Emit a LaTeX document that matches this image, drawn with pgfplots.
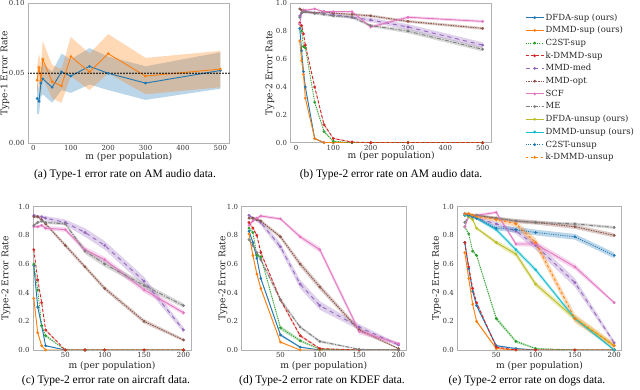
\documentclass[border=0pt]{standalone}
\usepackage{fontspec}
\setmainfont{DejaVu Serif}
\newfontfamily\capfont{Liberation Serif}
\usepackage{pgfplots}
\usepackage{pgfplotstable}
\pgfplotsset{compat=1.18}
\usepgfplotslibrary{fillbetween}

\definecolor{c0}{HTML}{1F77B4}
\definecolor{c1}{HTML}{FF7F0E}
\definecolor{c2}{HTML}{2CA02C}
\definecolor{c3}{HTML}{D62728}
\definecolor{c4}{HTML}{9467BD}
\definecolor{c5}{HTML}{8C564B}
\definecolor{c6}{HTML}{E377C2}
\definecolor{c7}{HTML}{7F7F7F}
\definecolor{c8}{HTML}{BCBD22}
\definecolor{c9}{HTML}{17BECF}

% type-1 error, AM audio
\pgfplotstableread{
x A Ae B Be
10 0.032 0.011 0.045 0.010
15 0.030 0.009 0.054 0.010
20 0.043 0.010 0.045 0.012
25 0.046 0.011 0.060 0.013
50 0.040 0.011 0.044 0.012
75 0.051 0.013 0.041 0.012
100 0.048 0.012 0.062 0.014
150 0.055 0.013 0.051 0.013
200 0.050 0.012 0.064 0.014
300 0.043 0.012 0.048 0.013
500 0.052 0.013 0.053 0.013
}\ta

% type-2 error, AM audio
\pgfplotstableread{
x A Ae B Be C Ce K Ke M Me O Oe S Se E Ee
10 0.82 0.01 0.73 0.01 0.85 0.01 0.86 0.01 0.91 0.01 0.96 0.005 0.85 0.01 0.90 0.01
15 0.66 0.01 0.59 0.01 0.80 0.01 0.84 0.01 0.93 0.01 0.95 0.005 0.93 0.01 0.93 0.01
20 0.51 0.01 0.49 0.01 0.69 0.01 0.78 0.01 0.94 0.01 0.95 0.005 0.95 0.01 0.94 0.01
25 0.40 0.01 0.32 0.01 0.68 0.01 0.70 0.01 0.94 0.01 0.94 0.005 0.95 0.01 0.94 0.01
50 0.03 0.005 0.03 0.005 0.29 0.01 0.40 0.01 0.93 0.01 0.93 0.005 0.96 0.005 0.93 0.01
75 0 0 0 0 0.08 0.01 0.13 0.01 0.93 0.01 0.94 0.005 0.94 0.005 0.92 0.01
100 0 0 0 0 0.01 0.005 0.03 0.005 0.92 0.01 0.93 0.005 0.94 0.005 0.91 0.01
150 0 0 0 0 0 0 0.005 0.003 0.90 0.01 0.92 0.01 0.94 0.005 0.90 0.01
200 0 0 0 0 0 0 0 0 0.88 0.015 0.91 0.01 0.83 0.01 0.84 0.01
300 0 0 0 0 0 0 0 0 0.83 0.02 0.87 0.01 0.90 0.01 0.80 0.015
500 0 0 0 0 0 0 0 0 0.70 0.02 0.82 0.01 0.87 0.01 0.67 0.015
}\tb

% type-2 error, aircraft
\pgfplotstableread{
x A Ae B Be C Ce K Ke M Me O Oe S Se E Ee
10 0.59 0.01 0.36 0.01 0.60 0.01 0.70 0.01 0.94 0.01 0.93 0.01 0.86 0.01 0.87 0.01
15 0.30 0.01 0.12 0.01 0.42 0.01 0.49 0.01 0.93 0.01 0.93 0.01 0.86 0.01 0.89 0.01
20 0.17 0.01 0.03 0.005 0.17 0.01 0.33 0.01 0.93 0.01 0.91 0.01 0.87 0.01 0.90 0.01
25 0.03 0.005 0 0 0.10 0.01 0.14 0.01 0.92 0.015 0.88 0.01 0.85 0.015 0.89 0.01
50 0 0 0 0 0 0 0 0 0.89 0.02 0.73 0.015 0.84 0.015 0.88 0.01
75 0 0 0 0 0 0 0 0 0.82 0.03 0.58 0.015 0.70 0.02 0.69 0.02
100 0 0 0 0 0 0 0 0 0.73 0.03 0.43 0.015 0.63 0.02 0.60 0.02
150 0 0 0 0 0 0 0 0 0.48 0.03 0.20 0.015 0.42 0.02 0.45 0.02
200 0 0 0 0 0 0 0 0 0.14 0.02 0.07 0.01 0.26 0.015 0.31 0.015
}\tc

% type-2 error, KDEF
\pgfplotstableread{
x A Ae B Be C Ce K Ke M Me O Oe S Se E Ee
10 0.83 0.01 0.81 0.01 0.85 0.01 0.89 0.01 0.94 0.01 0.92 0.01 0.87 0.01 0.77 0.01
15 0.75 0.01 0.66 0.01 0.82 0.01 0.85 0.01 0.92 0.01 0.92 0.01 0.90 0.01 0.73 0.01
20 0.64 0.01 0.53 0.01 0.66 0.01 0.80 0.01 0.91 0.015 0.91 0.01 0.92 0.01 0.68 0.01
25 0.50 0.01 0.43 0.01 0.65 0.01 0.68 0.01 0.89 0.02 0.90 0.01 0.935 0.01 0.63 0.01
50 0.105 0.01 0.055 0.005 0.155 0.015 0.35 0.01 0.72 0.025 0.79 0.015 0.915 0.01 0.35 0.015
75 0.02 0.005 0 0 0.065 0.01 0.10 0.01 0.46 0.03 0.60 0.02 0.79 0.015 0.16 0.01
100 0 0 0 0 0.005 0.003 0.01 0.005 0.31 0.03 0.44 0.02 0.70 0.02 0.06 0.01
150 0 0 0 0 0 0 0 0 0.16 0.02 0.14 0.015 0.13 0.02 0.005 0.003
200 0 0 0 0 0 0 0 0 0.035 0.01 0.01 0.005 0.045 0.01 0 0
}\td

% type-2 error, dogs
\pgfplotstableread{
x A Ae B Be C Ce K Ke M Me O Oe S Se E Ee F Fe D De U Ue L Le
10 0.75 0.01 0.68 0.01 0.86 0.01 0.75 0.01 0.95 0.01 0.94 0.01 0.86 0.01 0.89 0.005 0.95 0.01 0.94 0.01 0.95 0.01 0.95 0.01
15 0.57 0.01 0.50 0.01 0.81 0.01 0.58 0.01 0.94 0.01 0.95 0.01 0.93 0.01 0.93 0.005 0.93 0.01 0.94 0.01 0.94 0.01 0.95 0.01
20 0.41 0.01 0.32 0.01 0.69 0.01 0.43 0.01 0.93 0.01 0.94 0.01 0.93 0.01 0.94 0.005 0.91 0.01 0.93 0.01 0.93 0.01 0.94 0.01
25 0.31 0.01 0.20 0.01 0.66 0.01 0.33 0.01 0.92 0.01 0.94 0.01 0.94 0.01 0.94 0.005 0.85 0.01 0.92 0.01 0.92 0.01 0.93 0.01
50 0.03 0.005 0.01 0.005 0.22 0.015 0.02 0.005 0.88 0.015 0.92 0.01 0.96 0.01 0.92 0.01 0.75 0.015 0.84 0.015 0.85 0.015 0.91 0.015
75 0.01 0.005 0 0 0.06 0.01 0 0 0.83 0.02 0.90 0.015 0.74 0.015 0.90 0.01 0.67 0.02 0.70 0.015 0.84 0.02 0.88 0.02
100 0 0 0 0 0.01 0.005 0 0 0.73 0.03 0.89 0.015 0.74 0.02 0.89 0.01 0.46 0.02 0.56 0.015 0.82 0.02 0.75 0.03
150 0 0 0 0 0 0 0 0 0.47 0.03 0.86 0.015 0.58 0.02 0.88 0.01 0.22 0.02 0.22 0.015 0.79 0.02 0.22 0.03
200 0 0 0 0 0 0 0 0 0.05 0.015 0.80 0.015 0.33 0.01 0.855 0.01 0.03 0.015 0 0.01 0.66 0.02 0.03 0.02
}\te

% one series: shaded band (mean +- err) and the line with dots
\newcommand{\ser}[4]{%
  \addplot[draw=none, forget plot, name path=u#2] table[x=x, y expr=\thisrow{#2}+\thisrow{#2e}] {#1};
  \addplot[draw=none, forget plot, name path=l#2] table[x=x, y expr=\thisrow{#2}-\thisrow{#2e}] {#1};
  \addplot[fill=#3, fill opacity=0.3, draw=none, forget plot] fill between[of=u#2 and l#2];
  \addplot[color=#3, #4, line width=0.9bp, mark=*, mark size=0.9bp, mark options={solid}] table[x=x, y=#2] {#1};
}
\newcommand{\supall}[1]{%
  \ser{#1}{A}{c0}{solid}
  \ser{#1}{B}{c1}{solid}
  \ser{#1}{C}{c2}{dash pattern=on 1bp off 1.3bp}
  \ser{#1}{K}{c3}{dash pattern=on 3bp off 2bp}
  \ser{#1}{M}{c4}{dash pattern=on 4bp off 4bp}
  \ser{#1}{O}{c5}{dash pattern=on 1.5bp off 1bp}
  \ser{#1}{S}{c6}{solid}
  \ser{#1}{E}{c7}{dash pattern=on 4bp off 1.5bp on 1bp off 1.5bp}
}

\pgfplotsset{
  panel/.style 2 args={
    scale only axis, anchor=south west,
    axis line style={black!30, line width=0.7bp},
    major tick length=0pt,
    tick label style={font=\fontsize{7}{8}\selectfont, text=black!80},
    xticklabel style={yshift=1bp},
    label style={font=\fontsize{9.2}{11}\selectfont, text=black!85},
    xlabel={m (per population)},
    xlabel style={at={(axis description cs:0.5,0)}, anchor=center, yshift=-#2},
    ylabel style={at={(axis description cs:#1,0.5)}, anchor=center},
    /pgf/number format/assume math mode=true,
  },
  type2/.style={
    ymin=0, ymax=1, ytick={0,0.2,0.4,0.6,0.8,1},
    yticklabel style={/pgf/number format/.cd, fixed, fixed zerofill, precision=1},
    ylabel={Type-2 Error Rate},
  },
}

\begin{document}
\begin{tikzpicture}

\begin{axis}[panel={-0.114}{13.5bp}, at={(28bp,246.7bp)}, width=201.5bp, height=140bp,
  xmin=-14.5, xmax=524.5, ymin=0, ymax=0.1,
  xtick={0,100,200,300,400,500}, ytick={0,0.05,0.1},
  yticklabel style={/pgf/number format/.cd, fixed, fixed zerofill, precision=2},
  ylabel={Type-1 Error Rate}]
  \ser{\ta}{A}{c0}{solid}
  \ser{\ta}{B}{c1}{solid}
  \addplot[black, line width=1.8bp, dash pattern=on 0pt off 3bp, line cap=round] coordinates {(-14.5,0.05) (524.5,0.05)};
\end{axis}

\begin{axis}[panel={-0.102}{13.5bp}, type2, at={(290.6bp,247.3bp)}, width=201.2bp, height=139.4bp,
  xmin=-14.5, xmax=524.5, xtick={0,100,200,300,400,500}]
  \supall{\tb}
\end{axis}

\begin{axis}[panel={-0.171}{15.5bp}, type2, at={(33bp,40bp)}, width=158bp, height=143.3bp,
  xmin=9, xmax=209.5, xtick={50,100,150,200}]
  \supall{\tc}
\end{axis}

\begin{axis}[panel={-0.112}{15.5bp}, type2, at={(241.5bp,40bp)}, width=164.5bp, height=143.3bp,
  xmin=0.5, xmax=209.5, xtick={50,100,150,200}]
  \supall{\td}
\end{axis}

\begin{axis}[panel={-0.126}{15.5bp}, type2, at={(457.3bp,40bp)}, width=164.4bp, height=143.3bp,
  xmin=0.5, xmax=209.5, xtick={50,100,150,200},
  legend style={at={(0.412,2.36)}, anchor=north west, draw=none, fill=none,
    font=\fontsize{8.5}{10}\selectfont, text=black!85, cells={anchor=west},
    inner sep=0pt, row sep=1.4bp,
    nodes={inner sep=1.5bp, text height=6.5bp, text depth=1.8bp}},
  legend image code/.code={\draw[mark repeat=2, mark phase=2] plot coordinates {(0bp,0bp) (9bp,0bp) (18bp,0bp)};}]
  \supall{\te}
  \ser{\te}{F}{c8}{solid}
  \ser{\te}{D}{c9}{solid}
  \ser{\te}{U}{c0}{dash pattern=on 1bp off 1.3bp}
  \ser{\te}{L}{c1}{dash pattern=on 2.5bp off 2.5bp}
  \legend{DFDA-sup (ours), DMMD-sup (ours), C2ST-sup, k-DMMD-sup, MMD-med, MMD-opt, SCF, ME,
    DFDA-unsup (ours), DMMD-unsup (ours), C2ST-unsup, k-DMMD-unsup}
\end{axis}

\begin{scope}[font=\capfont\fontsize{11.5}{13}\selectfont]
  \node at (125bp,215.5bp) {(a) Type-1 error rate on AM audio data.};
  \node at (391bp,215.5bp) {(b) Type-2 error rate on AM audio data.};
  \node at (106bp,9bp) {(c) Type-2 error rate on aircraft data.};
  \node at (322bp,9bp) {(d) Type-2 error rate on KDEF data.};
  \node at (527bp,9bp) {(e) Type-2 error rate on dogs data.};
\end{scope}

\pgfresetboundingbox
\path[use as bounding box] (0,0) rectangle (640bp,390bp);
\end{tikzpicture}
\end{document}
